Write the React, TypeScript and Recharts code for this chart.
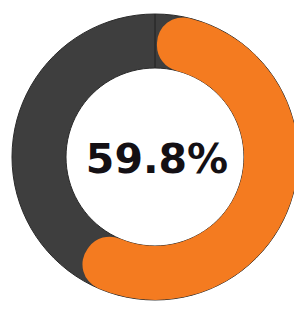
import React from 'react'
import { PieChart, Pie, Cell } from 'recharts'

const labels = ['Done', 'Remaining']
const values = [59.8, 40.2]
const track = [{ name: 'track', value: 100 }]

const COLORS = {
  done: '#F47B20',
  track: '#3E3E3E',
  text: '#141014'
}

const data = labels.map((name, i) => ({ name, value: values[i] }))

const CX = 155
const CY = 157
const INNER = 89
const OUTER = 143

const App: React.FC = () => {
  return (
    <div style={{ position: 'absolute', left: 0, top: 0, width: 294, height: 309, background: '#fff' }}>
      <PieChart width={294} height={309} margin={{ top: 0, right: 0, bottom: 0, left: 0 }}>
        <Pie
          data={track}
          dataKey="value"
          cx={CX}
          cy={CY}
          innerRadius={INNER}
          outerRadius={OUTER}
          startAngle={90}
          endAngle={-270}
          stroke="#2b2b2b"
          strokeWidth={1}
          fill={COLORS.track}
          isAnimationActive={false}
        />
        <Pie
          data={data}
          dataKey="value"
          cx={CX}
          cy={CY}
          innerRadius={INNER}
          outerRadius={OUTER}
          startAngle={89}
          endAngle={-271}
          cornerRadius={26}
          paddingAngle={0}
          stroke="none"
          isAnimationActive={false}
        >
          <Cell fill={COLORS.done} />
          <Cell fill="transparent" />
        </Pie>
        <text
          x={CX + 2}
          y={CY + 2}
          textAnchor="middle"
          dominantBaseline="central"
          fill={COLORS.text}
          style={{ fontFamily: 'DejaVu Sans', fontWeight: 700, fontSize: 41 }}
        >
          {values[0]}%
        </text>
      </PieChart>
    </div>
  )
}

export default App
